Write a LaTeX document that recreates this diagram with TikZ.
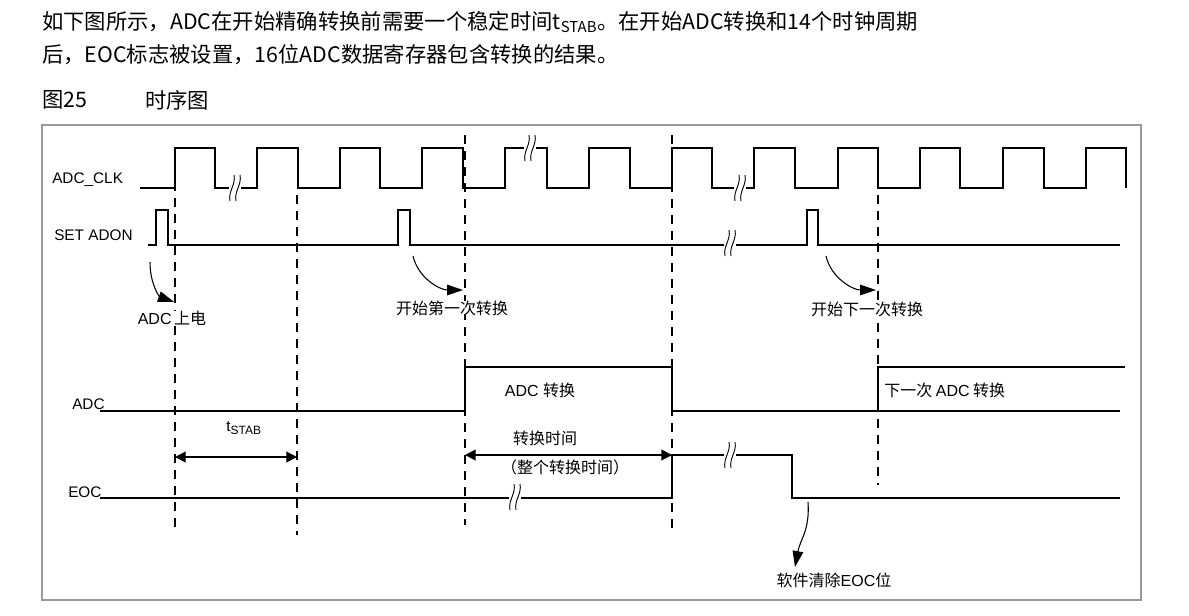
\documentclass[tikz,border=0pt]{standalone}
\usepackage{fontspec}
\setmainfont{Liberation Sans}
\newfontfamily\cjk{Noto Sans CJK SC}
\usetikzlibrary{arrows.meta}
\begin{document}
\begin{tikzpicture}[x=0.75pt,y=-0.75pt,
  wave/.style={line width=1.1pt},
  dline/.style={dash pattern=on 7pt off 5pt, line width=0.9pt},
  lbl/.style={font=\fontsize{11.5}{13}\selectfont, inner sep=0pt},
  cl/.style={font=\cjk\fontsize{12}{14}\selectfont, inner sep=0pt},
  hd/.style={font=\cjk\fontsize{16}{18}\selectfont, inner sep=0pt, anchor=west},
  carr/.style={line width=0.8pt, -{Triangle[length=12pt,width=8pt]}},
  dimarr/.style={line width=1.4pt, {Triangle[length=8pt,width=8pt]}-{Triangle[length=8pt,width=8pt]}},
  brk/.pic={\fill[white] (-6,-8) rectangle (6,8);
    \draw[line width=0.7pt] (-5,13) .. controls (-7,3) and (1,-3) .. (-1,-13);
    \draw[line width=0.7pt] (1,13) .. controls (-1,3) and (7,-3) .. (5,-13);}
]
\useasboundingbox (0,0) rectangle (1189,615);
\fill[white] (0,0) rectangle (1189,615);
% header
\node[hd] (h1) at (42,22) {如下图所示，ADC在开始精确转换前需要一个稳定时间t\textsubscript{STAB}。在开始ADC转换和14个时钟周期};
\node[hd] (h2) at (42,55) {后，EOC标志被设置，16位ADC数据寄存器包含转换的结果。};
\node[hd] (h3) at (42,100) {图25};
\node[hd] (h4) at (145,100) {时序图};
% frame
\draw[gray!80, line width=1pt] (42,125) rectangle (1141,600);
% dashed lines
\draw[dline] (175,150) -- (175,530);
\draw[dline] (297,195) -- (297,535);
\draw[dline] (465,135) -- (465,525);
\draw[dline] (672,135) -- (672,530);
\draw[dline] (878,195) -- (878,485);
% CLK
\node[lbl, anchor=west] (clk) at (52,180) {ADC\_CLK};
\draw[wave] (140,188)
  \foreach \r/\f in {175/215,257/298,340/380,422/463,505/547,589/630,672/712,754/795,838/878,920/960,1003/1044,1086/1126}
  { -- (\r,188) -- (\r,148) -- (\f,148) -- (\f,188) };
\pic at (235,188) {brk};
\pic at (530,148) {brk};
\pic at (740,188) {brk};
% SET ADON
\node[lbl, anchor=west] (adon) at (54,235) {SET ADON};
\draw[wave] (148,245) -- (156,245) -- (156,210) -- (168,210) -- (168,245) -- (398,245) -- (398,210) -- (410,210) -- (410,245)
  -- (807,245) -- (807,210) -- (818,210) -- (818,245) -- (1120,245);
\pic at (730,243) {brk};
% curved arrows
\coordinate (a1) at (150,262); \coordinate (a1e) at (174,302);
\draw[carr] (a1) .. controls (150,285) and (160,297) .. (a1e);
\coordinate (a2) at (413,256); \coordinate (a2e) at (463,290);
\draw[carr] (a2) .. controls (418,278) and (440,290) .. (a2e);
\coordinate (a3) at (826,256); \coordinate (a3e) at (876,290);
\draw[carr] (a3) .. controls (831,278) and (853,290) .. (a3e);
\node[cl, fill=white, inner xsep=1pt] (t1) at (172,318) {\fontspec{Liberation Sans}ADC\,{\cjk 上电}};
\node[cl, fill=white, inner xsep=1pt] (t2) at (452,308) {开始第一次转换};
\node[cl, fill=white, inner xsep=1pt] (t3) at (867,309) {开始下一次转换};
% ADC
\node[lbl, anchor=west] (adc) at (72,404) {ADC};
\draw[wave] (100,411) -- (465,411) -- (465,367) -- (672,367) -- (672,411) -- (878,411) -- (878,367) -- (1125,367);
\draw[wave] (878,411) -- (1120,411);
\node[cl] (c1) at (540,390) {\fontspec{Liberation Sans}ADC {\cjk 转换}};
\node[cl, anchor=west] (c2) at (884,390) {下一次 {\fontspec{Liberation Sans}ADC} 转换};
% dims
\node[lbl] (ts) at (244,428) {t\textsubscript{\fontsize{9}{10}\selectfont STAB}};
\draw[dimarr] (175,457) -- (297,457);
\node[cl] (ct) at (545,438) {转换时间};
\draw[dimarr] (465,455) -- (672,455);
\node[cl] (ct2) at (565,467) {（整个转换时间）};
% EOC
\node[lbl, anchor=west] (eoc) at (68,492) {EOC};
\draw[wave] (100,498) -- (672,498) -- (672,455) -- (792,455) -- (792,498) -- (1120,498);
\pic at (515,497) {brk};
\pic at (730,455) {brk};
\coordinate (e1) at (808,502); \coordinate (e1e) at (795,567);
\draw[carr] (e1) .. controls (810,530) and (800,540) .. (e1e);
\node[cl] (sw) at (834,580) {软件清除{\fontspec{Liberation Sans}EOC}位};
\end{tikzpicture}
\end{document}
